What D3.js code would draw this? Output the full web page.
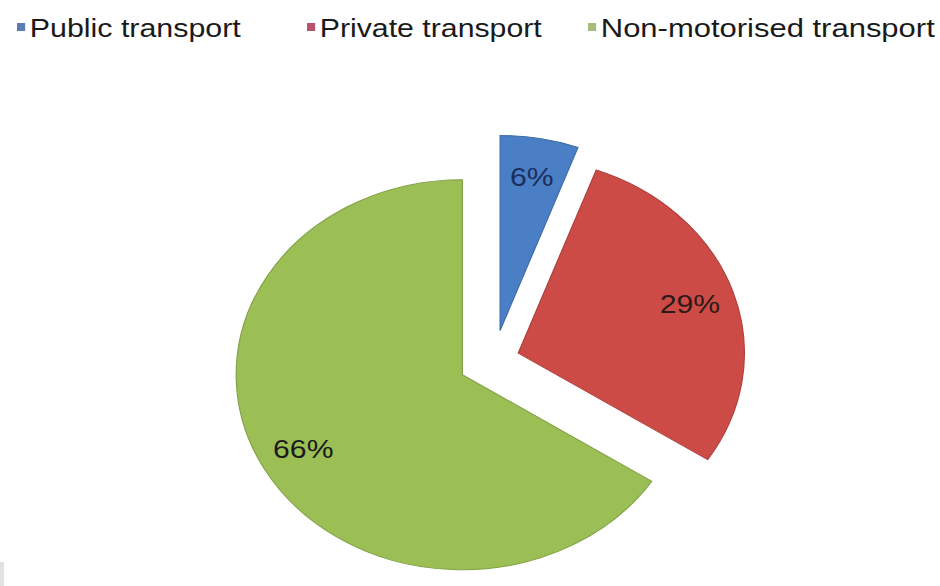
<!DOCTYPE html>
<html>
<head>
<meta charset="utf-8">
<script src="https://cdn.jsdelivr.net/npm/d3@7"></script>
<style>
  html, body { margin: 0; padding: 0; background: #ffffff; }
  svg { display: block; }
  text { font-family: "Liberation Sans", Arial, sans-serif; }
</style>
</head>
<body>
<svg id="chart" width="940" height="586"></svg>
<script>
// ---- data ----
const categories = ["Public transport", "Private transport", "Non-motorised transport"];
const shares = [5.6, 28.6, 65.8];          // percent of trips (labels show rounded values)
const colors = ["#4a7fc6", "#cd4b47", "#9bbf55"];
const legendColors = ["#5b7cb3", "#b5536a", "#a9bb7c"];
const labelColors = ["#1c2e5c", "#2e1a18", "#1a1a1a"];

// ---- layout (style constants) ----
const W = 940, H = 586;
const sx = 1.16;                 // picture is stretched horizontally
const cx = 494 / sx, cy = 360;   // pie centre in unscaled coords
const R = 195;
const explode = [30, 22, 31];
const labelR = 156;
const legendLeft = [17, 307, 588];     // screen px of legend swatches
const legendTextW = [211, 222, 334];   // screen px width of legend texts

const svg = d3.select("#chart");
svg.append("rect").attr("width", W).attr("height", H).attr("fill", "#ffffff");
svg.append("rect").attr("x", 0).attr("y", 562).attr("width", 4).attr("height", 24).attr("fill", "#e2e2e2");

const g = svg.append("g").attr("transform", `scale(${sx},1)`);

const data = categories.map((c, i) => ({ name: c, value: shares[i], color: colors[i], i }));
const pie = d3.pie().value(d => d.value).sort(null);
const arcs = pie(data);
const arc = d3.arc().innerRadius(0).outerRadius(R);
const labelArc = d3.arc().innerRadius(labelR).outerRadius(labelR);

const slices = g.append("g").attr("transform", `translate(${cx},${cy})`);
arcs.forEach((a, i) => {
  const mid = (a.startAngle + a.endAngle) / 2;
  const ox = Math.sin(mid) * explode[i];
  const oy = -Math.cos(mid) * explode[i];
  const sg = slices.append("g").attr("transform", `translate(${ox},${oy})`);
  sg.append("path")
    .attr("d", arc(a))
    .attr("fill", a.data.color)
    .attr("stroke", d3.color(a.data.color).darker(0.5))
    .attr("stroke-width", 1);
  const [lx, ly] = labelArc.centroid(a);
  sg.append("text")
    .attr("x", lx).attr("y", ly)
    .attr("dy", "0.36em")
    .attr("text-anchor", "middle")
    .attr("font-size", 26)
    .attr("fill", labelColors[i])
    .text(Math.round(a.data.value) + "%");
});

// ---- legend ----
const legend = g.append("g");
categories.forEach((c, i) => {
  const x0 = legendLeft[i] / sx;
  legend.append("rect").attr("x", x0).attr("y", 23).attr("width", 7).attr("height", 8)
    .attr("fill", legendColors[i]);
  legend.append("text").attr("x", x0 + 11).attr("y", 37.5)
    .attr("font-size", 26.5).attr("fill", "#1a1a1a")
    .attr("textLength", legendTextW[i] / sx)
    .attr("lengthAdjust", "spacingAndGlyphs")
    .text(c);
});
</script>
</body>
</html>
